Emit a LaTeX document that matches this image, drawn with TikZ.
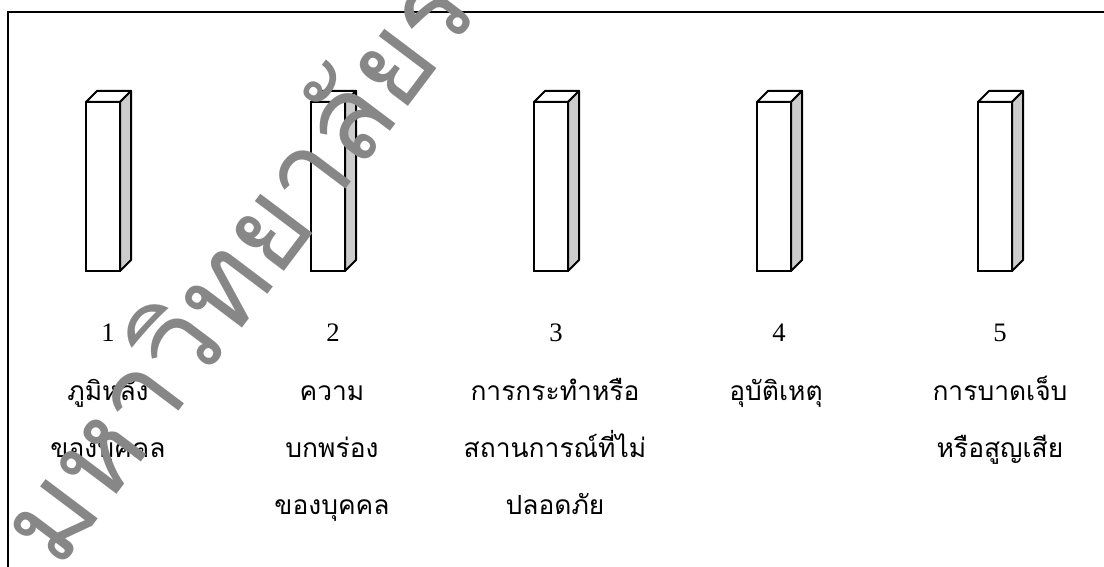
\documentclass[tikz,border=0pt]{standalone}
\usepackage{fontspec}
\setmainfont{Liberation Serif}
\newfontfamily\thai[Script=Thai]{Loma}
\definecolor{sidegray}{gray}{0.8}
\definecolor{wmgray}{gray}{0.53}
\begin{document}
\begin{tikzpicture}[x=0.75pt,y=-0.75pt,
  line width=1.5pt,
  front/.style={draw=black,fill=white,minimum width=25.5pt,minimum height=126.75pt,inner sep=0pt,outer sep=0pt,anchor=north west},
  num/.style={font=\fontsize{20}{20}\selectfont,inner sep=0pt,anchor=base},
  lbl/.style={font=\thai\fontsize{19.8}{20}\selectfont,inner sep=0pt,anchor=base},
  wm/.style={font=\thai\fontsize{88}{88}\selectfont,text=wmgray,inner sep=0pt,anchor=base west,rotate=53}
]
\useasboundingbox (0,0) rectangle (1104,567);
\clip (0,0) rectangle (1104,567);
\fill[white] (0,0) rectangle (1104,567);
% frame (cropped at right and bottom)
\draw (8,575) -- (8,12) -- (1112,12);
% boxes
\foreach \i/\x in {1/86,2/311,3/534,4/757,5/978}{
  \node[front] (b\i) at (\x,102) {};
  \draw[fill=white,line join=round] (b\i.north west) -- ++(11,-11) -- ++(34,0) -- (b\i.north east) -- cycle;
  \draw[fill=sidegray,line join=round] (b\i.north east) -- ++(11,-11) -- ++(0,169) -- (b\i.south east) -- cycle;
}
% numbers
\node[num] (n1) at (108,341) {1};
\node[num] (n2) at (333,341) {2};
\node[num] (n3) at (556,341) {3};
\node[num] (n4) at (779,341) {4};
\node[num] (n5) at (1000,341) {5};
% labels
\node[lbl] (l1a) at (108,400) {ภูมิหลัง};
\node[lbl] (l1b) at (108,457) {ของบุคคล};
\node[lbl] (l2a) at (332,400) {ความ};
\node[lbl] (l2b) at (332,457) {บกพร่อง};
\node[lbl] (l2c) at (332,514) {ของบุคคล};
\node[lbl] (l3a) at (555,400) {การกระทำหรือ};
\node[lbl] (l3b) at (555,457) {สถานการณ์ที่ไม่};
\node[lbl] (l3c) at (555,514) {ปลอดภัย};
\node[lbl] (l4a) at (776,400) {อุบัติเหตุ};
\node[lbl] (l5a) at (1000,400) {การบาดเจ็บ};
\node[lbl] (l5b) at (1000,457) {หรือสูญเสีย};
% watermark
\node[wm] (wm) at (58,572) {มหาวิทยาลัยราชภัฏ};
\end{tikzpicture}
\end{document}
